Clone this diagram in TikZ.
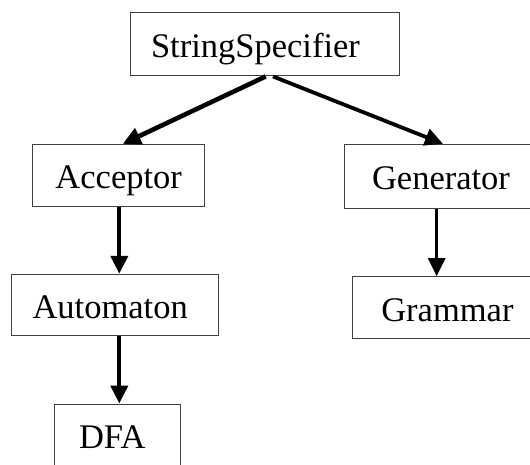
\documentclass[tikz,border=0pt]{standalone}
\usepackage{fontspec}
\setmainfont{Liberation Serif}
\usetikzlibrary{arrows.meta}

\tikzset{
  cls/.style={draw=black!75, line width=1pt, fill=white,
    font=\fontsize{34.5}{40}\selectfont, text height=27pt, text depth=0pt,
    inner sep=0pt, anchor=center},
  link/.style={line width=#1, line cap=butt,
    -{Triangle[length=18pt,width=17pt]}},
  link/.default=4pt
}
% text set slightly left of the box centre
\newcommand\lefttext[2]{#2\hspace*{#1}}

\begin{document}
\begin{tikzpicture}[x=1pt,y=-1pt]
  \useasboundingbox (0,0) rectangle (530,464);
  \clip (0,0) rectangle (530,464);

  % class boxes
  \node[cls, minimum width=268.6pt, minimum height=63.3pt] (ss)   at (265,44.3)   {\lefttext{19pt}{StringSpecifier}};
  \node[cls, minimum width=172pt,   minimum height=61.7pt] (acc)  at (118.7,175.2) {Acceptor};
  \node[cls, minimum width=194pt,   minimum height=64pt]   (gen)  at (441,176.3)   {Generator};
  \node[cls, minimum width=207.3pt, minimum height=61.4pt] (aut)  at (114.7,305)   {\lefttext{9pt}{Automaton}};
  \node[cls, minimum width=189.3pt, minimum height=61.6pt] (gram) at (447.4,307.5) {Grammar};
  \node[cls, minimum width=126.3pt, minimum height=62pt]   (dfa)  at (117.8,435)   {\lefttext{11pt}{DFA}};

  % inheritance arrows
  \draw[link=4.6pt] ([xshift=0.7pt]ss.south) -- ([xshift=4pt]acc.north);
  \draw[link=3.8pt] ([xshift=8pt]ss.south) -- ([xshift=2pt]gen.north);
  \draw[link=4.2pt] ([xshift=0.6pt]acc.south) -- ([xshift=0.6pt]acc.south |- aut.north);
  \draw[link=4.2pt] (aut.south -| acc.south) ++(0.6,0) coordinate (autout)
                  (autout) -- (autout |- dfa.north);
  \draw[link=3pt] ([xshift=-4.3pt]gen.south) -- ([xshift=-4.3pt]gen.south |- gram.north);
\end{tikzpicture}
\end{document}
